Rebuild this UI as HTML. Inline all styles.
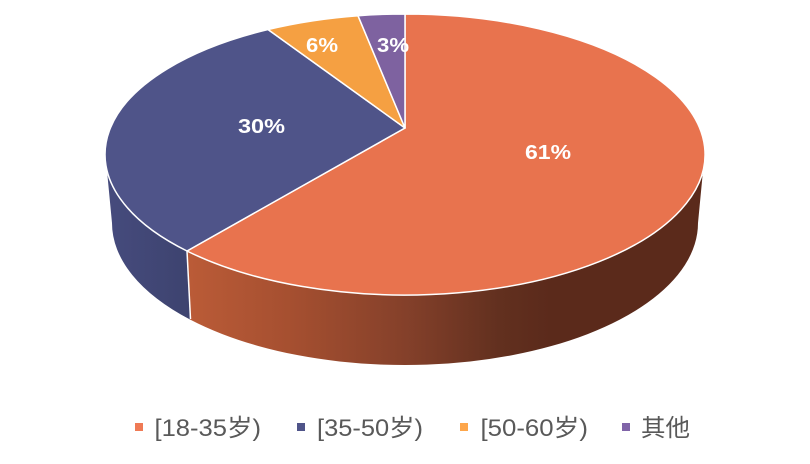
<!DOCTYPE html>
<html>
<head>
<meta charset="utf-8">
<style>
  html, body { margin: 0; padding: 0; background: #ffffff; }
  body { width: 810px; height: 464px; overflow: hidden; }
  svg { display: block; }
</style>
</head>
<body>
<svg width="810" height="464" viewBox="0 0 810 464" xmlns="http://www.w3.org/2000/svg">
  <defs>
    <linearGradient id="gOr" gradientUnits="userSpaceOnUse" x1="190" y1="0" x2="705" y2="0">
      <stop offset="0" stop-color="#BA5B37"/>
      <stop offset="0.2" stop-color="#A54F30"/>
      <stop offset="0.42" stop-color="#84402A"/>
      <stop offset="0.6" stop-color="#62301F"/>
      <stop offset="0.7" stop-color="#5B2A1B"/>
      <stop offset="1" stop-color="#5B2A1B"/>
    </linearGradient>
    <linearGradient id="gBl" gradientUnits="userSpaceOnUse" x1="107" y1="0" x2="190" y2="0">
      <stop offset="0" stop-color="#464B7D"/>
      <stop offset="1" stop-color="#3D436F"/>
    </linearGradient>
  </defs>

  <!-- side walls -->
  <path d="M187,251 A300,140.5 0 0 0 703,170.7 L698,223 A293,142 0 0 1 190,319.5 Z" fill="url(#gOr)"/>
  <path d="M107,170.7 A300,140.5 0 0 0 187,251 L190,319.5 A293,142 0 0 1 112,223 Z" fill="url(#gBl)"/>
  <line x1="187" y1="251" x2="190.5" y2="319" stroke="#ffffff" stroke-width="1.5"/>

  <!-- top surface -->
  <g stroke="#ffffff" stroke-width="1.5" stroke-linejoin="round">
    <path d="M405,128 L405,14 A300,140.5 0 1 1 187,251 Z" fill="#E8734E"/>
    <path d="M405,128 L187,251 A300,140.5 0 0 1 268,29.5 Z" fill="#4F5489"/>
    <path d="M405,128 L268,29.5 A300,140.5 0 0 1 358,15.7 Z" fill="#F5A042"/>
    <path d="M405,128 L358,15.7 A300,140.5 0 0 1 405,14 Z" fill="#7E62A0"/>
  </g>

  <!-- data labels -->
  <g font-family="Liberation Sans, sans-serif" font-weight="bold" font-size="20" fill="#ffffff">
    <text x="525" y="159" textLength="46" lengthAdjust="spacingAndGlyphs">61%</text>
    <text x="238" y="133" textLength="47" lengthAdjust="spacingAndGlyphs">30%</text>
    <text x="306" y="52" textLength="32" lengthAdjust="spacingAndGlyphs">6%</text>
    <text x="377" y="52" textLength="32" lengthAdjust="spacingAndGlyphs">3%</text>
  </g>

  <!-- legend -->
  <rect x="135" y="423" width="8" height="8" fill="#EF7A55"/>
  <rect x="297" y="423" width="8" height="8" fill="#4F5489"/>
  <rect x="460" y="423" width="8" height="8" fill="#FDA64B"/>
  <rect x="622" y="423" width="8" height="8" fill="#8064A8"/>
  <g font-family="Liberation Sans, 'Noto Sans CJK SC', sans-serif" font-size="24" fill="#595959">
    <text x="154.5" y="436" textLength="106.5" lengthAdjust="spacingAndGlyphs">[18-35岁)</text>
    <text x="317" y="436" textLength="106" lengthAdjust="spacingAndGlyphs">[35-50岁)</text>
    <text x="480.5" y="436" textLength="107.5" lengthAdjust="spacingAndGlyphs">[50-60岁)</text>
    <text x="641" y="436" textLength="49" lengthAdjust="spacingAndGlyphs">其他</text>
  </g>
</svg>
</body>
</html>
